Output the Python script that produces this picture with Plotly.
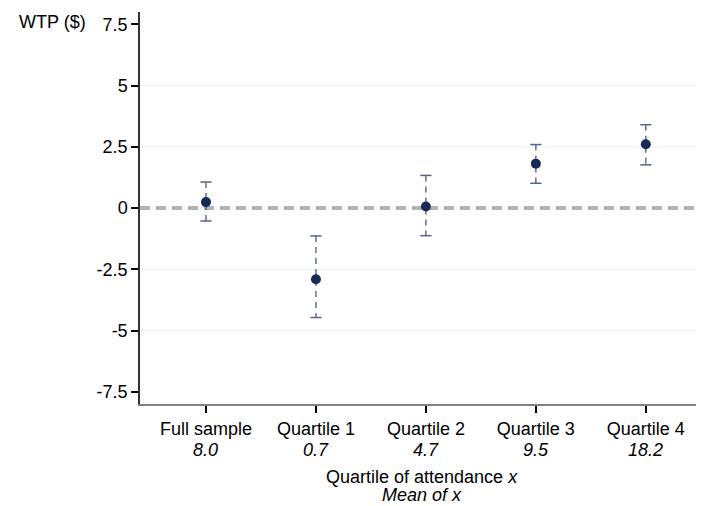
import plotly.graph_objects as go

# ---- data ----
categories = ["Full sample", "Quartile 1", "Quartile 2", "Quartile 3", "Quartile 4"]
mean_x_labels = ["8.0", "0.7", "4.7", "9.5", "18.2"]
wtp = [0.24, -2.91, 0.06, 1.81, 2.60]
ci_lo = [-0.53, -4.47, -1.13, 1.01, 1.76]
ci_hi = [1.06, -1.14, 1.33, 2.59, 3.40]
y_tickvals = [-7.5, -5, -2.5, 0, 2.5, 5, 7.5]
y_ticktext = ["-7.5", "-5", "-2.5", "0", "2.5", "5", "7.5"]
grid_vals = [-5, -2.5, 0, 2.5, 5]

FONT = "Liberation Sans, Arial, sans-serif"
FS = 18
NAVY = "#1a2a57"
SLATE = "#56648a"

fig = go.Figure()

# dashed CI lines
for c, lo, hi in zip(categories, ci_lo, ci_hi):
    fig.add_trace(go.Scatter(
        x=[c, c], y=[hi, lo], mode="lines",
        line=dict(color=SLATE, width=1.4, dash="6px,5px"),
        showlegend=False, hoverinfo="skip"))

# caps
fig.add_trace(go.Scatter(
    x=categories + categories, y=ci_lo + ci_hi, mode="markers",
    marker=dict(symbol="line-ew", size=8, line=dict(color=SLATE, width=1.5)),
    showlegend=False, hoverinfo="skip"))

# point estimates
fig.add_trace(go.Scatter(
    x=categories, y=wtp, mode="markers",
    marker=dict(color=NAVY, size=10, line=dict(width=0)),
    showlegend=False))

# gridlines
for g in grid_vals:
    fig.add_shape(type="line", xref="paper", x0=0, x1=1, yref="y", y0=g, y1=g,
                  line=dict(color="#eaf0f2", width=1.2), layer="below")

# zero reference line
fig.add_shape(type="line", xref="paper", x0=0, x1=1, yref="y", y0=0, y1=0,
              line=dict(color="#b3b3b3", width=3.8, dash="10px,6px"), layer="below")

# mean-of-x labels under each category
for c, m in zip(categories, mean_x_labels):
    fig.add_annotation(text=f"<i>{m}</i>", xref="x", yref="paper", x=c, y=0,
                       yshift=-35, xanchor="center", yanchor="top", showarrow=False,
                       borderpad=0, font=dict(family=FONT, size=FS, color="#000"))

fig.add_annotation(text="WTP ($)", xref="paper", yref="paper", x=-0.219, y=0.975,
                   xanchor="left", yanchor="middle", showarrow=False,
                   font=dict(family=FONT, size=FS, color="#000"))
fig.add_annotation(text="Quartile of attendance <i>x</i>", xref="paper", yref="paper",
                   x=0.5, y=0, yshift=-62, xanchor="center", yanchor="top",
                   showarrow=False, borderpad=0,
                   font=dict(family=FONT, size=FS, color="#000"))
fig.add_annotation(text="<i>Mean of x</i>", xref="paper", yref="paper",
                   x=0.5, y=0, yshift=-80, xanchor="center", yanchor="top",
                   showarrow=False, borderpad=0,
                   font=dict(family=FONT, size=FS, color="#000"))

fig.update_layout(
    width=696, height=498,
    margin=dict(l=132, r=1, t=4, b=102),
    paper_bgcolor="white", plot_bgcolor="white",
    font=dict(family=FONT, size=FS, color="#000"),
    xaxis=dict(
        type="category", categoryorder="array", categoryarray=categories,
        range=[-0.6, 4.52],
        tickvals=categories, ticktext=categories,
        ticks="outside", ticklen=7, tickcolor="#000", tickwidth=1.5,
        showline=True, linecolor="#808080", linewidth=2,
        showgrid=False, zeroline=False, automargin=False,
        tickfont=dict(family=FONT, size=FS, color="#000"),
    ),
    yaxis=dict(
        range=[-8, 8],
        tickvals=y_tickvals, ticktext=y_ticktext,
        ticks="outside", ticklen=7, tickcolor="#000", tickwidth=1.5,
        showline=True, linecolor="#333333", linewidth=1.5,
        showgrid=False, zeroline=False, automargin=False,
        tickfont=dict(family=FONT, size=FS, color="#000"),
    ),
)

fig.write_html("out.html")
